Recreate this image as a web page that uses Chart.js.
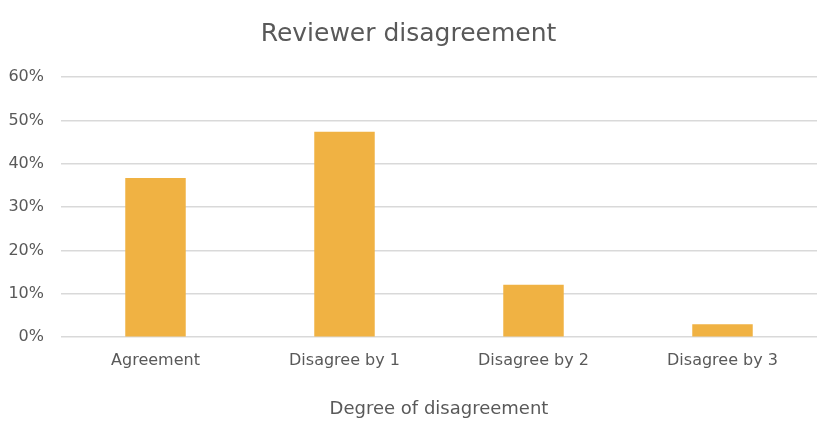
<!DOCTYPE html>
<html>
<head>
<meta charset="utf-8">
<script src="https://cdn.jsdelivr.net/npm/chart.js@4"></script>
<style>
  html, body { margin: 0; padding: 0; background: #fff; }
  #wrap { width: 840px; height: 426px; }
</style>
</head>
<body>
<div id="wrap"><canvas id="chartDisagreement" width="840" height="426"></canvas></div>
<script>
// datos
const categories = ['Agreement', 'Disagree by 1', 'Disagree by 2', 'Disagree by 3'];
const shareValues = [36.7, 47.4, 12.1, 3.0];
const yTicks = [0, 10, 20, 30, 40, 50, 60];

const textColor = '#595959';
const fontFamily = "'DejaVu Sans', sans-serif";

const ctx = document.getElementById('chartDisagreement');
new Chart(ctx, {
  type: 'bar',
  data: {
    labels: categories,
    datasets: [{
      label: 'Share',
      data: shareValues,
      backgroundColor: '#F0B243',
      borderWidth: 0,
      barPercentage: 0.64,
      categoryPercentage: 0.5
    }]
  },
  options: {
    responsive: false,
    animation: false,
    layout: { padding: { left: 0, right: 23, top: 19, bottom: 6 } },
    plugins: {
      legend: { display: false },
      tooltip: { enabled: false },
      title: {
        display: true,
        text: 'Reviewer disagreement',
        color: textColor,
        font: { family: fontFamily, size: 25, weight: 'normal' },
        padding: { top: 0, bottom: 28 }
      }
    },
    scales: {
      x: {
        grid: { display: false },
        border: { display: false },
        ticks: {
          color: textColor,
          font: { family: fontFamily, size: 16 },
          padding: 6
        },
        title: {
          display: true,
          text: 'Degree of disagreement',
          color: textColor,
          font: { family: fontFamily, size: 18 },
          padding: { top: 22, bottom: 0 }
        }
      },
      y: {
        min: 0,
        max: 60,
        afterFit: function (axis) { axis.width = 61; },
        afterBuildTicks: function (axis) {
          axis.ticks = yTicks.map(v => ({ value: v }));
        },
        grid: { color: '#d9d9d9', lineWidth: 1.5, drawTicks: false },
        border: { display: false },
        ticks: {
          color: textColor,
          font: { family: fontFamily, size: 16 },
          padding: 17,
          callback: v => v + '%'
        }
      }
    }
  }
});
</script>
</body>
</html>
